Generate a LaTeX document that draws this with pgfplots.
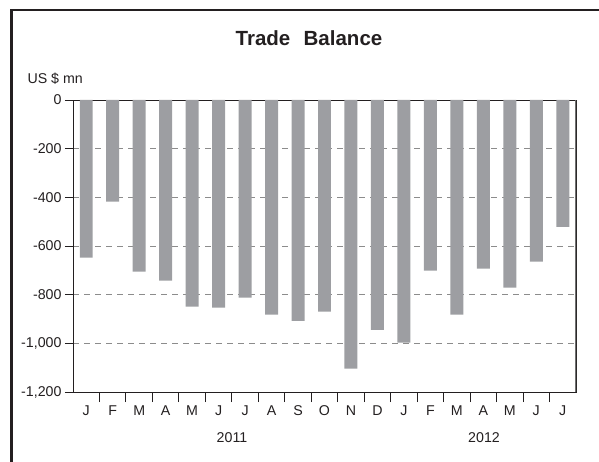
\documentclass[border=0pt]{standalone}
\usepackage{pgfplots}
\pgfplotsset{compat=1.18}
\usepackage{fontspec}
\setmainfont{Liberation Sans}
\definecolor{barc}{HTML}{9D9EA2}
\definecolor{txt}{HTML}{231F20}
\definecolor{gridc}{HTML}{8C8C8C}
\definecolor{rax}{HTML}{707070}
\begin{document}
\begin{tikzpicture}
\useasboundingbox (0pt,0pt) rectangle (599pt,461pt);
\clip (0pt,0pt) rectangle (599pt,461pt);
\draw[line width=2.5pt, color=txt] (11.5pt,-20pt) -- (11.5pt,451pt) -- (620pt,451pt);
\node[font=\bfseries\fontsize{20.5}{24}\selectfont, text=txt] at (309pt,423pt) {Trade\hspace{0.65em}Balance};
\node[anchor=west, font=\fontsize{14.2}{16}\selectfont, text=txt] at (24pt,382pt) {US \$ mn};
\begin{axis}[
  at={(73pt,69pt)}, anchor=south west, scale only axis,
  width=503pt, height=292pt,
  xmin=-0.5, xmax=18.5, ymin=-1200, ymax=0,
  ytick={-1200,-1000,-800,-600,-400,-200,0},
  yticklabels={{-1,200},{-1,000},-800,-600,-400,-200,0},
  xtick={0,...,18},
  xticklabels={J,F,M,A,M,J,J,A,S,O,N,D,J,F,M,A,M,J,J},
  minor xtick={0.5,1.5,...,17.5},
  tick align=outside,
  major tick length=8pt,
  minor tick length=10pt,
  major x tick style={draw=none},
  minor x tick style={txt, line width=0.9pt},
  ytick style={txt, line width=0.8pt},
  xtick pos=bottom, ytick pos=left,
  tick label style={font=\fontsize{14.2}{16}\selectfont, text=txt},
  xticklabel style={yshift=-2pt},
  axis line style={txt, line width=0.9pt},
  ymajorgrids,
  grid style={gridc, dash pattern=on 6pt off 5pt, line width=0.9pt},
]
\addplot[ybar, bar width=0.49, fill=barc, draw=none] coordinates {
(0,-648) (1,-418) (2,-705) (3,-742) (4,-849) (5,-853) (6,-812)
(7,-882) (8,-908) (9,-870) (10,-1104) (11,-945) (12,-997)
(13,-701) (14,-882) (15,-693) (16,-771) (17,-664) (18,-521)};
\draw[txt, line width=0.9pt] (axis cs:11.5,-1200) -- ++(0pt,-28pt);
\draw[rax, line width=1.8pt] (rel axis cs:1,0) -- (rel axis cs:1,1);
\end{axis}
\node[font=\fontsize{14.2}{16}\selectfont, text=txt] at (232pt,23pt) {2011};
\node[font=\fontsize{14.2}{16}\selectfont, text=txt] at (484pt,23pt) {2012};
\end{tikzpicture}
\end{document}
